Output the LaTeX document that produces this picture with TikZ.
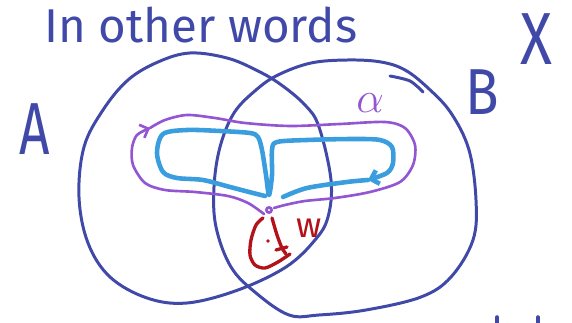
\documentclass[tikz,border=0pt]{standalone}
\usepackage{fontspec}
\setmainfont{Fira Sans}
\usetikzlibrary{arrows.meta}
\definecolor{InkBlue}{RGB}{64, 72, 168}
\definecolor{LoopPurple}{RGB}{146, 86, 210}
\definecolor{LoopBlue}{RGB}{58, 158, 222}
\definecolor{InkRed}{RGB}{178, 18, 26}

\begin{document}
\begin{tikzpicture}[x=0.02cm, y=-0.02cm,
    circ/.style={draw=InkBlue, line width=1.7pt, line cap=round},
    alphaloop/.style={draw=LoopPurple, line width=1.5pt, line cap=round},
    blueloop/.style={draw=LoopBlue, line width=2.6pt, line cap=round, line join=round},
    redloop/.style={draw=InkRed, line width=1.9pt, line cap=round},
    ink/.style={text=InkBlue, inner sep=0pt, anchor=base},
    tip/.style={-{Straight Barb[length=4pt, width=8pt]}}
]
\useasboundingbox (0,0) rectangle (572,323);

% labels
\node[ink, anchor=base west, font=\fontsize{27}{27}\selectfont] (title) at (44,43) {In other words};
\node[ink, font=\fontsize{42}{42}\selectfont] (labA) at (35,155) {\scalebox{0.72}[1]{A}};
\node[ink, font=\fontsize{37}{37}\selectfont] (labB) at (482,115) {\scalebox{0.85}[1]{B}};
\node[ink, font=\fontsize{42}{42}\selectfont] (labX) at (536,65) {\scalebox{0.8}[1]{X}};
\node[ink, text=LoopPurple, font=\fontsize{33}{33}\selectfont] (labalpha) at (370,113) {$\alpha$};
\node[ink, text=InkRed, font=\fontsize{20}{20}\selectfont] (labw) at (309,238) {w};

% the two sets
\draw[circ] plot[smooth cycle, tension=0.6] coordinates {(190,53) (227,58) (256,70) (280,84) (305,105) (319,127) (331,180) (328,217) (315,240) (286,267) (238,290) (187,303) (147,298) (110,277) (88,243) (79,197) (84,147) (103,110) (128,80) (158,62)};
\draw[circ] plot[smooth cycle, tension=0.6] coordinates {(348,60) (381,62) (405,70) (428,88) (451,113) (469,150) (476,200) (473,240) (451,277) (421,297) (366,310) (319,315) (289,315) (256,293) (231,267) (216,227) (214,187) (220,147) (234,113) (256,90) (278,75) (311,63)};
\draw[circ] plot[smooth] coordinates {(390,76) (410,81) (423,92)};

% cut-off marks at the bottom
\draw[circ, line width=2pt] (497,317) -- (497,323);
\draw[circ, line width=2pt] (538,317) -- (538,323);

% base point
\coordinate (x0) at (269,210);

% alpha
\draw[alphaloop, tip] plot[smooth] coordinates {(264,214) (248,203) (228,196) (195,192) (165,190) (145,183) (133,165) (132,148) (137,135) (150,128)};
\draw[alphaloop] plot[smooth] coordinates {(150,128) (165,120) (187,115) (215,118) (245,123) (290,126) (340,124) (385,122) (405,128) (415,145) (413,165) (400,182) (370,192) (335,198) (305,201) (285,205) (274,208)};

% blue loop
\draw[blueloop, tip] plot[smooth, tension=0.5] coordinates {(265,196) (253,193) (230,187) (203,180) (177,178) (163,172) (157,153) (163,134) (187,130) (220,131) (250,133) (258,137) (262,150) (266,175) (269,195) (272,175) (272,150) (277,142) (307,140) (353,139) (380,140) (392,147) (393,163) (387,173) (368,180)};
\draw[blueloop] plot[smooth] coordinates {(368,180) (347,182) (307,188) (283,197)};

% w
\draw[redloop] plot[smooth] coordinates {(263,218) (256,225) (251,240) (250,255) (255,265) (265,268) (278,262) (290,254)};
\draw[redloop] plot[smooth] coordinates {(272,218) (277,235) (282,248) (286,254)};
\draw[redloop] (276,250) -- (287,247);
\fill[InkRed] (268,241) circle (1.8);

\draw[alphaloop, fill=white] (x0) circle (2.6);
\end{tikzpicture}
\end{document}
